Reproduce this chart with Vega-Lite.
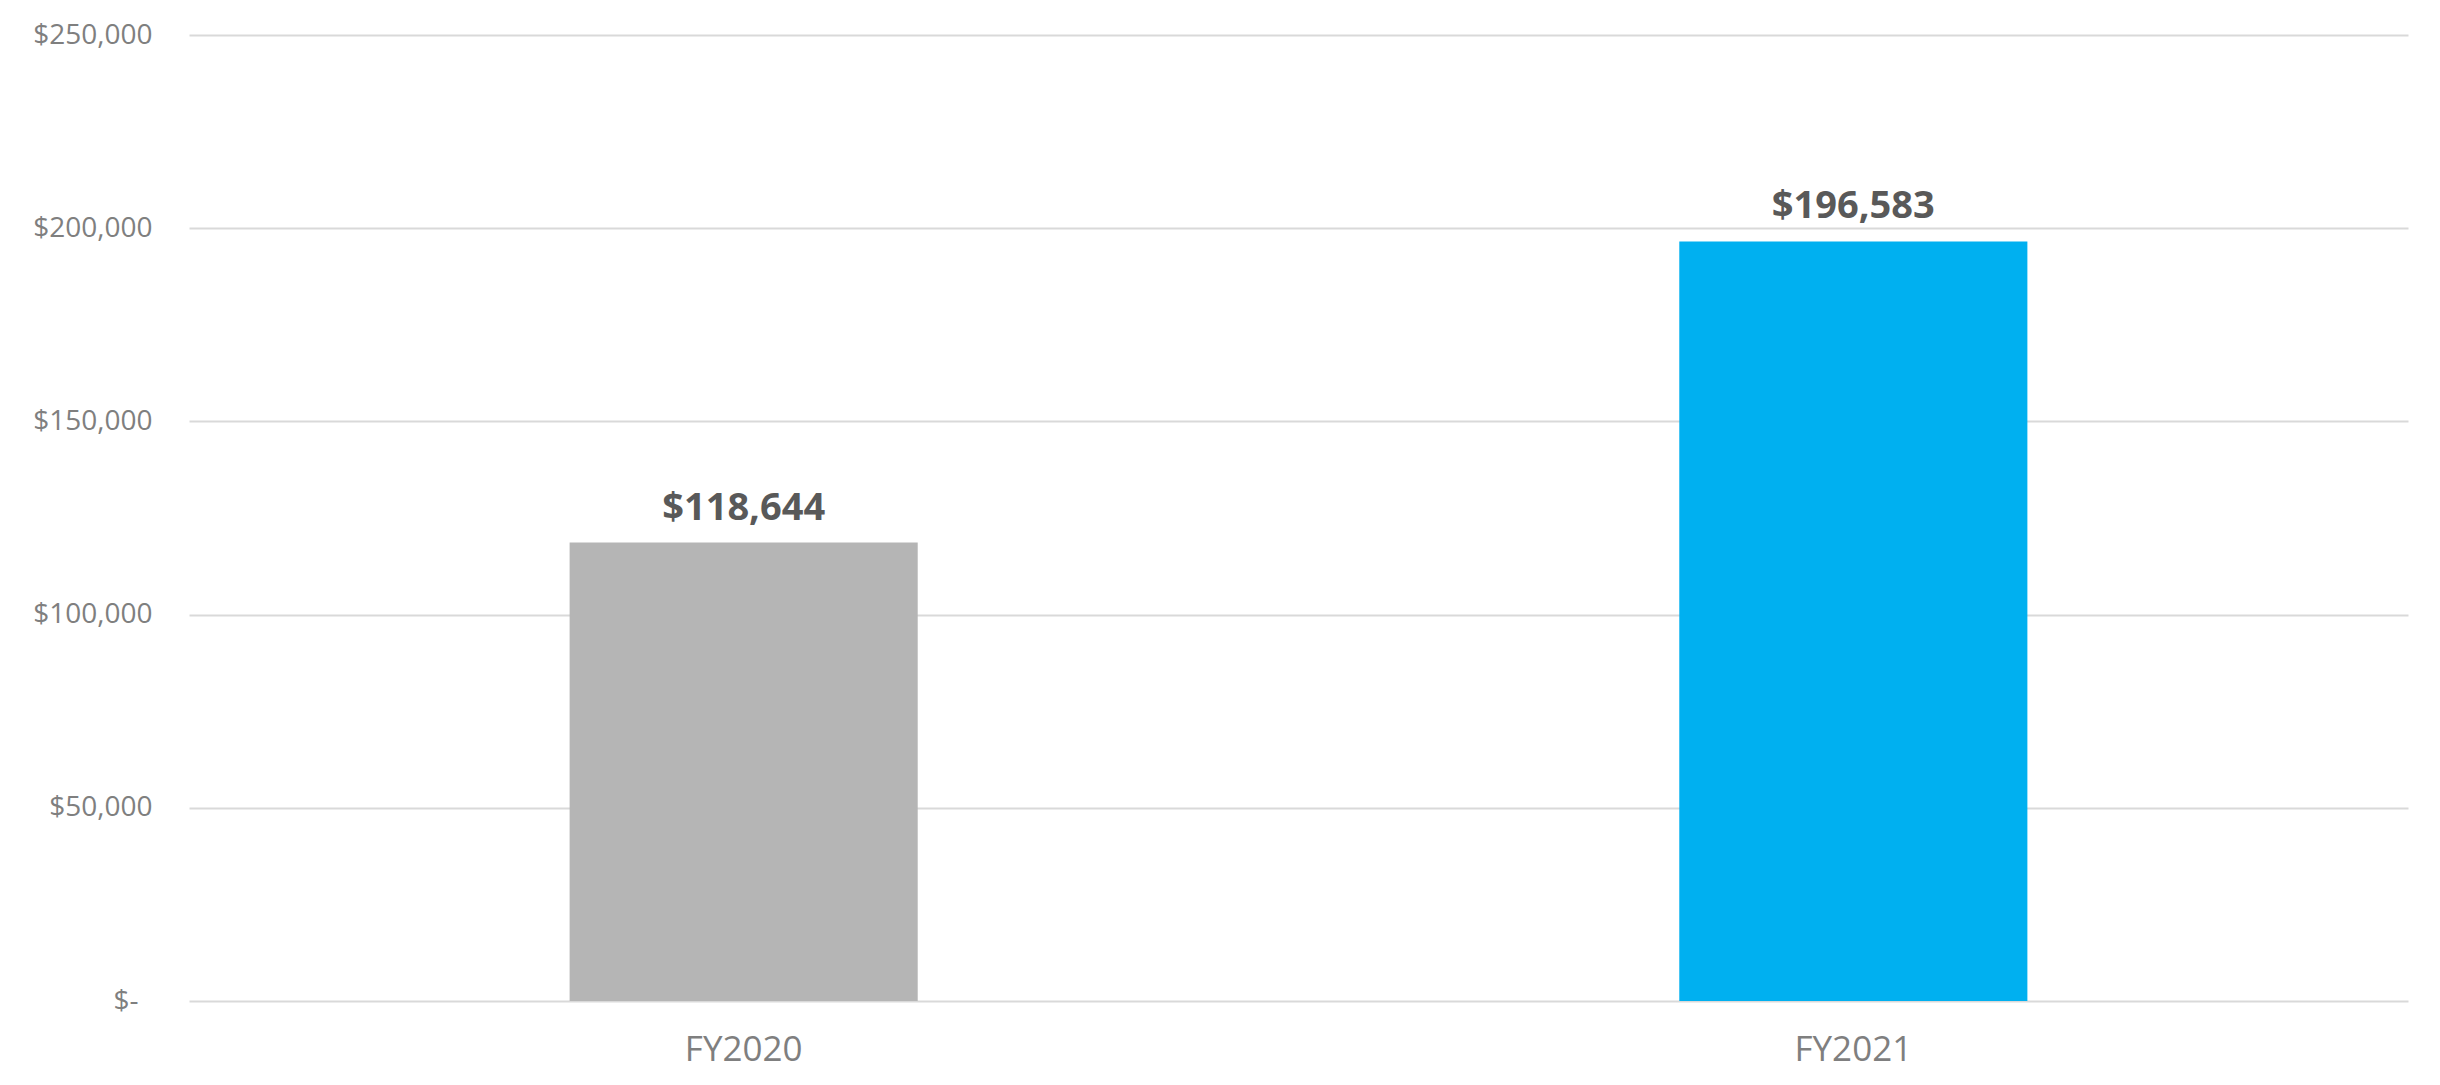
{
  "$schema": "https://vega.github.io/schema/vega-lite/v6.json",
  "width": 2219,
  "height": 966,
  "autosize": {"type": "none"},
  "padding": {"left": 189, "top": 35, "right": 32, "bottom": 84},
  "background": "white",
  "config": {"view": {"stroke": null}, "font": "Open Sans"},
  "data": {"values": [
    {"year": "FY2020", "amount": 118644},
    {"year": "FY2021", "amount": 196583}
  ]},
  "encoding": {
    "x": {
      "field": "year", "type": "nominal", "sort": null,
      "scale": {"paddingInner": 0.6863, "paddingOuter": 0.343},
      "axis": {
        "title": null, "labelAngle": 0, "ticks": false, "tickSize": 0, "domain": false, "grid": false,
        "labelFontSize": 35, "labelColor": "#7F7F7F", "labelPadding": 59, "labelBaseline": "alphabetic"
      }
    },
    "y": {
      "field": "amount", "type": "quantitative",
      "scale": {"domain": [0, 250000], "nice": false},
      "axis": {
        "title": null, "values": [0, 50000, 100000, 150000, 200000, 250000],
        "labelExpr": "datum.value == 0 ? '$-' : '$' + format(datum.value, ',')",
        "domain": false, "ticks": false, "tickSize": 0, "grid": true,
        "gridColor": "#D9D9D9", "gridWidth": 2,
        "labelFontSize": 28, "labelColor": "#7F7F7F",
        "labelPadding": {"condition": {"test": "datum.value == 0", "value": 51}, "value": 37}
      }
    }
  },
  "layer": [
    {
      "mark": {"type": "bar"},
      "encoding": {
        "color": {
          "field": "year", "type": "nominal",
          "scale": {"domain": ["FY2020", "FY2021"], "range": ["#B5B5B5", "#00B0F0"]},
          "legend": null
        }
      }
    },
    {
      "mark": {"type": "text", "dy": -23, "baseline": "alphabetic", "fontWeight": "bold", "fontSize": 38, "color": "#595959"},
      "encoding": {
        "text": {"field": "amount", "type": "quantitative", "format": "$,.0f"}
      }
    }
  ]
}
